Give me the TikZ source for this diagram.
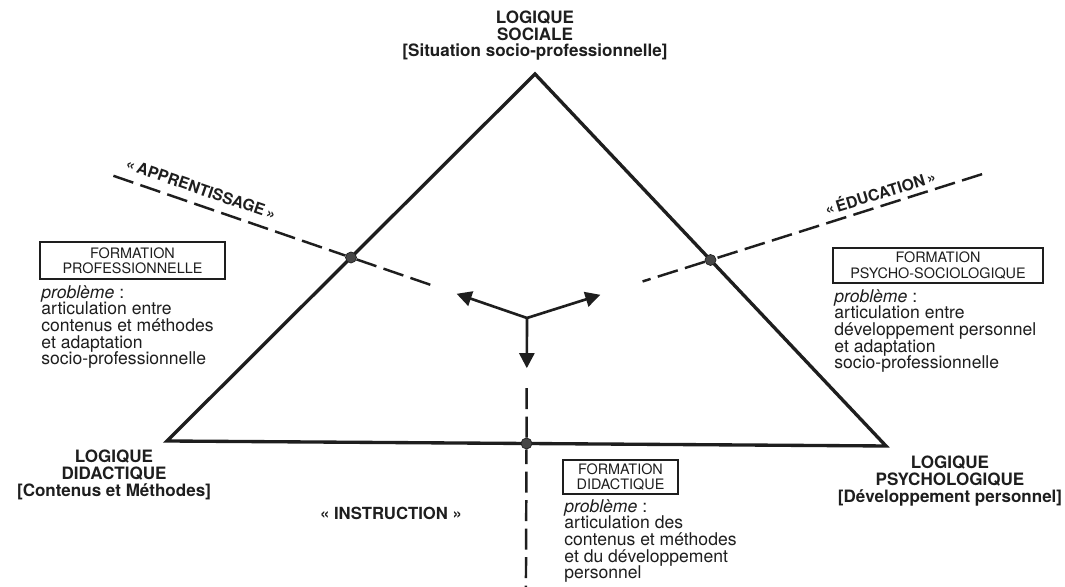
\documentclass[tikz,border=0pt]{standalone}
\usepackage{fontspec}
\setmainfont{TeX Gyre Heros}
\usetikzlibrary{calc}
\usetikzlibrary{math}
\usetikzlibrary{positioning}
\usetikzlibrary{arrows.meta}

\begin{document}
\begin{tikzpicture}[x=0.02cm, y=0.02cm]
    \definecolor{ink}{RGB}{30, 30, 30}
    \definecolor{dotgrey}{RGB}{70, 70, 70}
    
    \tikzmath {
        \tTip = 0.40;
        \tGapL = 0.52;
        \tGapR = 0.63;
        \tGapB = 0.53;
        \tFarL = 2.35;
        \tFarR = 2.48;
        \tFarB = 2.30;
    }
    
    \tikzstyle{side}=[line width=1.9pt, ink, line join=miter]
    \tikzstyle{track}=[line width=1.4pt, ink, dash pattern=on 0.42cm off 0.15cm]
    \tikzstyle{arr}=[line width=1.5pt, ink, line cap=round, -{Triangle[length=0.3cm, width=0.3cm]}]
    \tikzstyle{knot}=[shape=circle, draw=ink, fill=dotgrey, inner sep=0pt, minimum size=0.22cm]
    \tikzstyle{logic}=[align=center, inner sep=0pt, text=ink, font=\fontsize{9.7}{9.5}\selectfont\bfseries]
    \tikzstyle{way}=[inner sep=0pt, text=ink, font=\fontsize{9}{10}\selectfont\bfseries]
    \tikzstyle{formbox}=[draw=ink, line width=1.1pt, align=center, inner sep=0pt, text=ink, font=\fontsize{8.2}{8.6}\selectfont]
    \tikzstyle{prob}=[align=left, inner sep=0pt, text=ink, font=\fontsize{10}{9.5}\selectfont]
    
    \useasboundingbox (0,0) rectangle (1065,587);
    \fill[white] (0,0) rectangle (1065,587);
    
    \coordinate (corner_l) at (167,146);
    \coordinate (corner_t) at (535,513);
    \coordinate (corner_r) at (886,141);
    \coordinate (hub) at (527,269);
    
    \draw[side] (corner_l) -- (corner_t) -- (corner_r) -- cycle;
    
    \node[knot] (dot_l) at ($(corner_l)!0.5!(corner_t)$) {};
    \node[knot] (dot_r) at ($(corner_t)!0.5!(corner_r)$) {};
    \node[knot] (dot_b) at ($(corner_l)!0.5!(corner_r)$) {};
    
    \coordinate (far_l) at ($(hub)!\tFarL!(dot_l)$);
    \coordinate (near_l) at ($(hub)!\tGapL!(dot_l)$);
    \coordinate (tip_l) at ($(hub)!\tTip!(dot_l)$);
    
    \coordinate (far_r) at ($(hub)!\tFarR!(dot_r)$);
    \coordinate (near_r) at ($(hub)!\tGapR!(dot_r)$);
    \coordinate (tip_r) at ($(hub)!\tTip!(dot_r)$);
    
    \coordinate (far_b) at ($(hub)!\tFarB!(dot_b)$);
    \coordinate (near_b) at ($(hub)!\tGapB!(dot_b)$);
    \coordinate (tip_b) at ($(hub)!\tTip!(dot_b)$);
    
    \draw[track] (far_l) -- (dot_l) -- (near_l);
    \draw[track] (far_r) -- (dot_r) -- (near_r);
    \draw[track] (far_b) -- (dot_b) -- (near_b);
    
    \draw[arr] (hub) -- (tip_l);
    \draw[arr] (hub) -- (tip_r);
    \draw[arr] (hub) -- (tip_b);
    
    \node[logic, above=0.26cm of corner_t] (logic_soc) {LOGIQUE\\SOCIALE\\{[}Situation socio-professionnelle{]}};
    \node[logic] (logic_did) at ($(corner_l)+(-53,-34)$) {LOGIQUE\\DIDACTIQUE\\{[}Contenus et Méthodes{]}};
    \node[logic] (logic_psy) at ($(corner_r)+(64,-35)$) {LOGIQUE\\PSYCHOLOGIQUE\\{[}Développement personnel{]}};
    
    \node[way, rotate=-19] (way_app) at (201,398) {«\,APPRENTISSAGE\,»};
    \node[way, rotate=17] (way_edu) at (880,395) {«\,ÉDUCATION\,»};
    \node[way, font=\fontsize{9.5}{10}\selectfont\bfseries] (way_ins) at (391,74) {« INSTRUCTION »};
    
    \node[formbox, minimum width=3.7cm, minimum height=0.74cm] (box_pro) at (132.5,326.5) {FORMATION\\PROFESSIONNELLE};
    \node[prob, anchor=north west] (prob_pro) at ($(box_pro.south west)+(2,-5)$) {\textit{problème} :\\articulation entre\\contenus et méthodes\\et adaptation\\socio-professionnelle};
    
    \node[formbox, minimum width=4.2cm, minimum height=0.7cm] (box_psy) at (938,321.5) {FORMATION\\PSYCHO-SOCIOLOGIQUE};
    \node[prob, anchor=north west] (prob_psy) at ($(box_psy.south west)+(2,-5)$) {\textit{problème} :\\articulation entre\\développement personnel\\et adaptation\\socio-professionnelle};
    
    \node[formbox, minimum width=2.3cm, minimum height=0.68cm] (box_did) at (620.5,110) {FORMATION\\DIDACTIQUE};
    \node[prob, anchor=north west] (prob_did) at ($(box_did.south west)+(2,-4)$) {\textit{problème} :\\articulation des\\contenus et méthodes\\et du développement\\personnel};
\end{tikzpicture}
\end{document}
